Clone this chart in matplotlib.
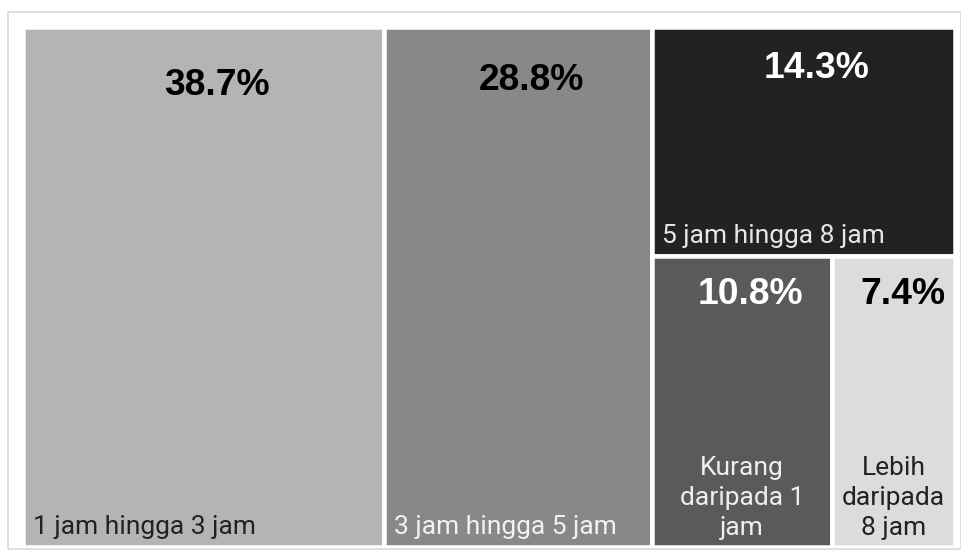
import matplotlib
matplotlib.use('Agg')
import matplotlib.pyplot as plt
from matplotlib import font_manager
from matplotlib.patches import Rectangle

# Treemap data (percent of respondents)
categories = ['1 jam hingga 3 jam', '3 jam hingga 5 jam', '5 jam hingga 8 jam',
              'Kurang\ndaripada 1\njam', 'Lebih\ndaripada\n8 jam']
values = [38.7, 28.8, 14.3, 10.8, 7.4]
pctLabels = ['38.7%', '28.8%', '14.3%', '10.8%', '7.4%']

# styling
fillColors = ['#b4b4b4', '#888888', '#222222', '#5a5a5a', '#dcdcdc']
pctColors = ['black', 'black', 'white', 'white', 'black']
labelColors = ['#222222', '#f2f2f2', '#e6e6e6', '#eeeeee', '#222222']
# pixel offsets of the percent labels from the top centre of each cell
pctOffsets = [(14, -68), (14, -63), (13, -51), (8, -48), (9, -48)]

fontNames = {f.name for f in font_manager.fontManager.ttflist}
pctFont = 'Liberation Sans Narrow' if 'Liberation Sans Narrow' in fontNames else 'Liberation Sans'
labelFont = 'Roboto' if 'Roboto' in fontNames else 'DejaVu Sans'

W, H = 961, 553
gap = 4.5  # white gap between cells, px

fig = plt.figure(figsize=(W / 100, H / 100), dpi=100)
renderer = fig.canvas.get_renderer()

# pick percent font size so "38.7%" is ~106 px wide like the reference
probe = fig.text(0, 0, '38.7%', fontsize=20, fontweight='bold', family=pctFont)
pctSize = 20 * 106 / probe.get_window_extent(renderer).width
probe.remove()
probe = fig.text(0, 0, categories[0], fontsize=18, family=labelFont)
labelSize = 18 * 223 / probe.get_window_extent(renderer).width
probe.remove()

# light grey outer frame
fig.patches.append(Rectangle((8 / W, (H - 549) / H), (W - 8) / W, (549 - 12) / H,
                             transform=fig.transFigure, fill=False,
                             edgecolor='#d9d9d9', linewidth=1.2))

left, right, top, bottom = 25 - gap / 2, 953 + gap / 2, 29 - gap / 2, 545 + gap / 2
ax = fig.add_axes([left / W, (H - bottom) / H, (right - left) / W, (bottom - top) / H])
total = sum(values)
ax.set_xlim(0, total)
ax.set_ylim(0, 1)
ax.axis('off')

# layout: two full-height columns, then a column split top / bottom-row
rest = values[2] + values[3] + values[4]
lower = values[3] + values[4]
x2 = values[0] + values[1]
rects = [
    (0, 0, values[0], 1),
    (values[0], 0, values[1], 1),
    (x2, lower / rest, rest, values[2] / rest),
    (x2, 0, rest * values[3] / lower, lower / rest),
    (x2 + rest * values[3] / lower, 0, rest * values[4] / lower, lower / rest),
]

for i, (x, y, w, h) in enumerate(rects):
    ax.add_patch(Rectangle((x, y), w, h, facecolor=fillColors[i],
                           edgecolor='white', linewidth=gap * 0.72))
    # percent label near the top
    ax.annotate(pctLabels[i], (x + w / 2, y + h), xytext=pctOffsets[i],
                textcoords='offset pixels', ha='center', va='baseline',
                fontsize=pctSize, fontweight='bold', family=pctFont,
                color=pctColors[i])
    # category label at the bottom
    if '\n' in categories[i]:
        ax.annotate(categories[i], (x + w / 2, y), xytext=(0, 7),
                    textcoords='offset pixels', ha='center', va='bottom',
                    multialignment='center', linespacing=1.32,
                    fontsize=labelSize, family=labelFont, color=labelColors[i])
    else:
        ax.annotate(categories[i], (x, y), xytext=(10, 13),
                    textcoords='offset pixels', ha='left', va='baseline',
                    fontsize=labelSize, family=labelFont, color=labelColors[i])

fig.savefig('out.png', dpi=100)
